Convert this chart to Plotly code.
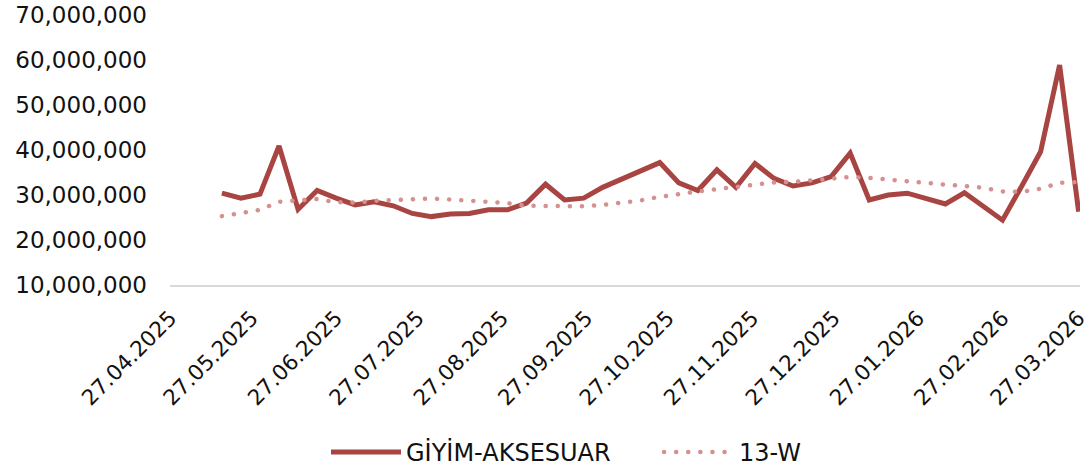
import plotly.graph_objects as go
import pandas as pd

# Weekly dates (Fridays)
dates = pd.date_range("2025-05-16", "2026-03-27", freq="7D")

giyim = [30.4, 29.3, 30.2, 40.9, 26.8, 31.0, 29.3, 27.8, 28.5, 27.6,
         25.9, 25.2, 25.8, 25.9, 26.7, 26.7, 28.2, 32.4, 28.9, 29.3,
         31.7, 33.5, 35.2, 37.2, 32.7, 31.0, 35.6, 31.7, 37.0, 33.7,
         32.0, 32.7, 34.1, 39.3, 28.9, 30.0, 30.4, 29.3, 28.0, 30.5,
         27.4, 24.4, 31.9, 39.6, 58.9, 26.3]

w13 = [25.3, 26.0, 26.7, 28.5, 28.8, 29.1, 28.4, 28.3, 28.7, 28.9,
       29.2, 29.2, 29.0, 28.8, 28.5, 28.2, 27.6, 27.5, 27.5, 27.5,
       27.8, 28.2, 28.8, 29.6, 30.3, 30.8, 31.3, 31.8, 32.4, 32.8,
       32.9, 33.2, 33.6, 34.0, 33.8, 33.4, 32.9, 32.6, 32.3, 32.0,
       31.6, 30.8, 30.7, 31.4, 32.7, 32.9]

giyim_vals = [v * 1_000_000 for v in giyim]
w13_vals = [v * 1_000_000 for v in w13]

tick_dates = pd.date_range("2025-04-27", periods=12, freq=pd.DateOffset(months=1))
tick_text = [d.strftime("%d.%m.%Y") for d in tick_dates]

y_ticks = [10_000_000, 20_000_000, 30_000_000, 40_000_000, 50_000_000, 60_000_000, 70_000_000]
y_text = [f"{v:,}" for v in y_ticks]

FONT = "DejaVu Sans, sans-serif"
TXT = "#111111"

fig = go.Figure()
fig.add_trace(go.Scatter(
    x=dates, y=giyim_vals, name="GİYİM-AKSESUAR", mode="lines",
    line=dict(color="#A84442", width=5),
))
fig.add_trace(go.Scatter(
    x=dates, y=w13_vals, name="13-W", mode="lines",
    line=dict(color="#D4918F", width=4.5, dash="4px,8px"),
))

fig.update_layout(
    width=1089, height=471,
    margin=dict(l=170, r=9, t=15, b=186, autoexpand=False),
    paper_bgcolor="white", plot_bgcolor="white",
    font=dict(family=FONT, size=23, color=TXT),
    showlegend=True,
    legend=dict(orientation="h", x=(326 - 170) / 910, xanchor="left", y=-0.62, yanchor="middle",
                font=dict(size=24, color=TXT), itemwidth=70, entrywidth=248,
                tracegroupgap=0),
)
fig.update_xaxes(
    type="date", range=["2025-04-26 22:00", "2026-03-27 12:00"],
    tickvals=tick_dates, ticktext=tick_text, tickangle=-45,
    ticklabeloverflow="allow", ticklabelstandoff=10,
    showgrid=False, showline=True, linecolor="#D9D9D9", linewidth=2,
    zeroline=False, ticks="", tickfont=dict(size=21.5, color=TXT), automargin=False,
)
fig.update_yaxes(
    range=[10_000_000, 70_000_000], tickvals=y_ticks, ticktext=y_text,
    showgrid=False, showline=False, zeroline=False, ticks="",
    ticklabelstandoff=22, tickfont=dict(size=23, color=TXT), automargin=False,
)

post = """
document.body.style.margin = '0';
document.body.style.overflow = 'hidden';
var gd = document.getElementsByClassName('plotly-graph-div')[0];
function roundDots(){
  var paths = gd.querySelectorAll('path.js-line');
  paths.forEach(function(p){
    var d = p.style.strokeDasharray;
    if(d && d !== 'none' && d !== ''){
      p.style.strokeLinecap = 'round';
      p.style.strokeDasharray = '0.1px,12px';
    }
  });
}
roundDots();
"""
fig.write_html("out.html", post_script=post, config={"displayModeBar": False})
